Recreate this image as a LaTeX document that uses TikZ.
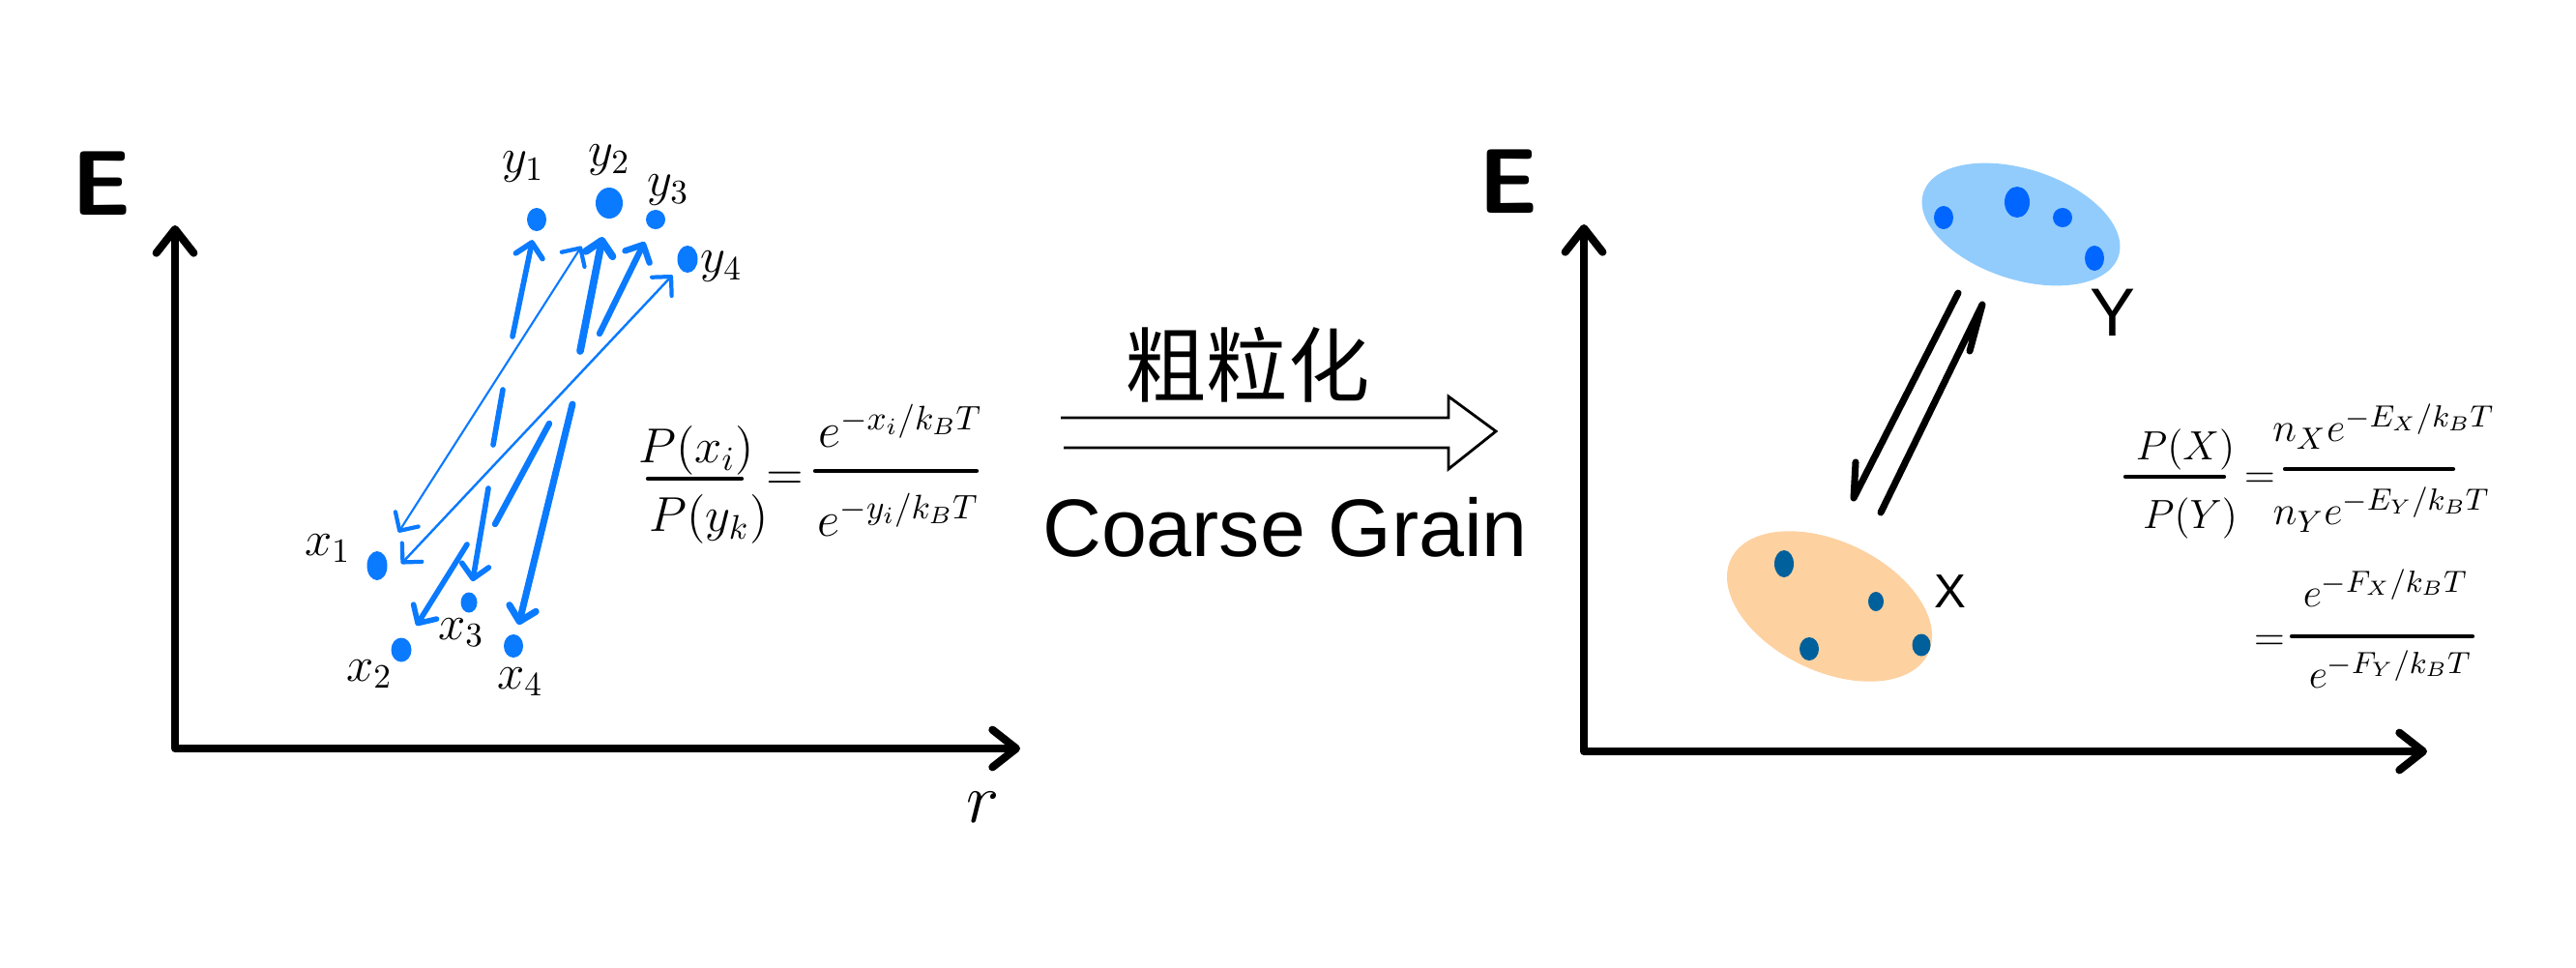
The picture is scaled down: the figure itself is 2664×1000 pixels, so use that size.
\documentclass[tikz,border=0pt]{standalone}
\usepackage{fontspec}
\newfontfamily\cjkfont{Noto Sans CJK SC}
\newfontfamily\arialfont{Liberation Sans}
\usetikzlibrary{arrows.meta,shapes.geometric}
\definecolor{arrblue}{RGB}{10,122,255}
\definecolor{ydotc}{RGB}{0,102,255}
\definecolor{xdotc}{RGB}{0,96,156}
\definecolor{yfillc}{RGB}{146,204,252}
\definecolor{xfillc}{RGB}{253,209,160}
\begin{document}
\begin{tikzpicture}[x=0.01cm,y=-0.01cm,
  axis/.style={line width=2.3pt, line cap=round, line join=round,
    {Straight Barb[length=7pt,width=11pt,round]}-{Straight Barb[length=7pt,width=11pt,round]}},
  pdot/.style={ellipse, fill=arrblue, inner sep=0pt, draw=none},
  blu/.style={arrblue, line cap=round, line join=round},
  bhead/.style={-{Straight Barb[length=4pt,width=8pt,round]}},
  dhead/.style={{Straight Barb[length=4pt,width=8pt,round,line width=1.2pt]}-{Straight Barb[length=4pt,width=8pt,round,line width=1.2pt]}},
  lbl/.style={font=\fontsize{14}{16}\selectfont, inner sep=0pt},
  eqn/.style={font=\fontsize{14}{17}\selectfont, inner sep=0pt},
  eqr/.style={font=\fontsize{13}{16}\selectfont, inner sep=0pt},
  fbar/.style={line width=1.2pt, line cap=round},
  harp/.style={line width=2pt, line cap=round, line join=round},
  axlbl/.style={font=\fontsize{27}{30}\selectfont\sffamily\bfseries, inner sep=0pt}
]
\useasboundingbox (0,0) rectangle (2664,1000);

% ---------- left axes ----------
\coordinate (lo) at (181,774);
\coordinate (ly) at (181,233);
\coordinate (lx) at (1055,774);
\draw[axis] (ly) -- (lo) -- (lx);
\node[axlbl] (lE) at (105,190) {E};
\node[font=\fontsize{20}{24}\selectfont, inner sep=0pt] (lr) at (1017,835) {$r$};

% ---------- dots ----------
\node[pdot, minimum width=0.20cm, minimum height=0.24cm] (y1) at (555,227) {};
\node[pdot, minimum width=0.28cm, minimum height=0.32cm] (y2) at (630,210) {};
\node[pdot, minimum width=0.20cm, minimum height=0.20cm] (y3) at (678,227) {};
\node[pdot, minimum width=0.21cm, minimum height=0.28cm] (y4) at (711,268) {};
\node[pdot, minimum width=0.21cm, minimum height=0.30cm] (x1) at (390,585) {};
\node[pdot, minimum width=0.21cm, minimum height=0.25cm] (x2) at (415,672) {};
\node[pdot, minimum width=0.17cm, minimum height=0.21cm] (x3) at (485,623) {};
\node[pdot, minimum width=0.20cm, minimum height=0.24cm] (x4) at (531,668) {};

\node[lbl] (ly1) at (541,173) {$y_1$};
\node[lbl] (ly2) at (630,166) {$y_2$};
\node[lbl] (ly3) at (691,197) {$y_3$};
\node[lbl] (ly4) at (746,276) {$y_4$};
\node[lbl] (lx1) at (339,567) {$x_1$};
\node[lbl] (lx2) at (382,697) {$x_2$};
\node[lbl] (lx3) at (477,654) {$x_3$};
\node[lbl] (lx4) at (538,705) {$x_4$};

% ---------- blue arrows ----------
\coordinate (c1) at (510,460);
\coordinate (c2) at (520,403);
\coordinate (c3) at (530,348);
\draw[blu, line width=1.6pt] (c1) -- (c2);
\draw[blu, line width=1.6pt, bhead, shorten >=0.09cm] (c3) -- (y1);

\coordinate (d1) at (600,363);
\draw[blu, line width=2.2pt, bhead, shorten >=0.19cm] (d1) -- (y2);

\coordinate (e1) at (512,542);
\coordinate (e2) at (568,438);
\coordinate (e3) at (620,345);
\draw[blu, line width=1.8pt] (e1) -- (e2);
\draw[blu, line width=1.8pt, bhead, shorten >=0.15cm] (e3) -- (y3);

\draw[blu, line width=0.6pt, dhead, shorten <=0.27cm, shorten >=0.37cm] (x1) -- (y2);
\coordinate (b1) at (415,583);
\draw[blu, line width=0.7pt, dhead, shorten >=0.10cm] (b1) -- (y4);

\coordinate (f1) at (483,563);
\draw[blu, line width=1.6pt, bhead, shorten >=0.17cm] (f1) -- (x2);
\coordinate (g1) at (505,505);
\draw[blu, line width=1.6pt, bhead, shorten >=0.11cm] (g1) -- (x3);
\coordinate (i1) at (592,418);
\draw[blu, line width=2pt, bhead, shorten >=0.10cm] (i1) -- (x4);

% ---------- left equation ----------
\node[eqn] (pxi) at (720,466) {$P(x_i)$};
\draw[fbar] (670,495) -- (767,495);
\node[eqn] (pyk) at (733,537) {$P(y_k)$};
\node[eqn] (eq1) at (812,497) {$=$};
\node[eqn] (ex) at (931,440) {$e^{-x_i/k_BT}$};
\draw[fbar] (843,487) -- (1010,487);
\node[eqn] (ey) at (929,532) {$e^{-y_i/k_BT}$};

% ---------- middle arrow ----------
\draw[line width=0.8pt, line join=miter] (1097,432) -- (1498,432) -- (1498,410) -- (1547,446) -- (1498,485) -- (1498,463) -- (1100,463);
\node[font=\cjkfont\fontsize{24}{28}\selectfont, inner sep=0pt] (cg) at (1290,377) {粗粒化};
\node[font=\arialfont\fontsize{24}{28}\selectfont, inner sep=0pt] (cgen) at (1329,545) {Coarse Grain};

% ---------- right axes ----------
\coordinate (ro) at (1638,777);
\coordinate (ry) at (1638,232);
\coordinate (rx) at (2510,777);
\draw[axis] (ry) -- (ro) -- (rx);
\node[axlbl] (rE) at (1560,188) {E};

% ---------- sets ----------
\node[ellipse, fill=yfillc, inner sep=0pt, minimum width=2.12cm, minimum height=1.14cm, rotate=-18] (Yset) at (2090,232) {};
\node[ellipse, fill=ydotc, inner sep=0pt, minimum width=0.20cm, minimum height=0.24cm] (yd1) at (2010,225) {};
\node[ellipse, fill=ydotc, inner sep=0pt, minimum width=0.26cm, minimum height=0.32cm] (yd2) at (2086,209) {};
\node[ellipse, fill=ydotc, inner sep=0pt, minimum width=0.20cm, minimum height=0.20cm] (yd3) at (2133,225) {};
\node[ellipse, fill=ydotc, inner sep=0pt, minimum width=0.20cm, minimum height=0.26cm] (yd4) at (2166,267) {};
\node[font=\arialfont\fontsize{20}{24}\selectfont, inner sep=0pt] (Ylbl) at (2185,323) {Y};

\node[ellipse, fill=xfillc, inner sep=0pt, minimum width=2.26cm, minimum height=1.34cm, rotate=-25.6] (Xset) at (1892,627) {};
\node[ellipse, fill=xdotc, inner sep=0pt, minimum width=0.20cm, minimum height=0.28cm] (xd1) at (1845,583) {};
\node[ellipse, fill=xdotc, inner sep=0pt, minimum width=0.16cm, minimum height=0.20cm] (xd2) at (1940,622) {};
\node[ellipse, fill=xdotc, inner sep=0pt, minimum width=0.20cm, minimum height=0.24cm] (xd3) at (1871,671) {};
\node[ellipse, fill=xdotc, inner sep=0pt, minimum width=0.19cm, minimum height=0.23cm] (xd4) at (1987,667) {};
\node[font=\arialfont\fontsize{14}{17}\selectfont, inner sep=0pt] (Xlbl) at (2017,612) {X};

% harpoons
\coordinate (h1) at (2025,303);
\coordinate (h2) at (1917,515);
\coordinate (h2b) at (1919,478);
\coordinate (h3) at (1945,530);
\coordinate (h4) at (2050,315);
\coordinate (h4b) at (2037,363);
\draw[harp] (h1) -- (h2) -- (h2b);
\draw[harp] (h3) -- (h4) -- (h4b);

% ---------- right equation ----------
\node[eqr] (pX) at (2260,465) {$P(X)$};
\draw[fbar] (2198,493) -- (2300,493);
\node[eqr] (pY) at (2265,536) {$P(Y)$};
\node[eqr] (eq2) at (2337,497) {$=$};
\node[eqr] (nx) at (2465,441) {$n_X e^{-E_X/k_BT}$};
\draw[fbar] (2363,485) -- (2537,485);
\node[eqr] (ny) at (2463,527) {$n_Y e^{-E_Y/k_BT}$};
\node[eqr] (eq3) at (2347,665) {$=$};
\node[eqr] (fx) at (2467,608) {$e^{-F_X/k_BT}$};
\draw[fbar] (2370,658) -- (2557,658);
\node[eqr] (fy) at (2472,692) {$e^{-F_Y/k_BT}$};
\end{tikzpicture}
\end{document}
